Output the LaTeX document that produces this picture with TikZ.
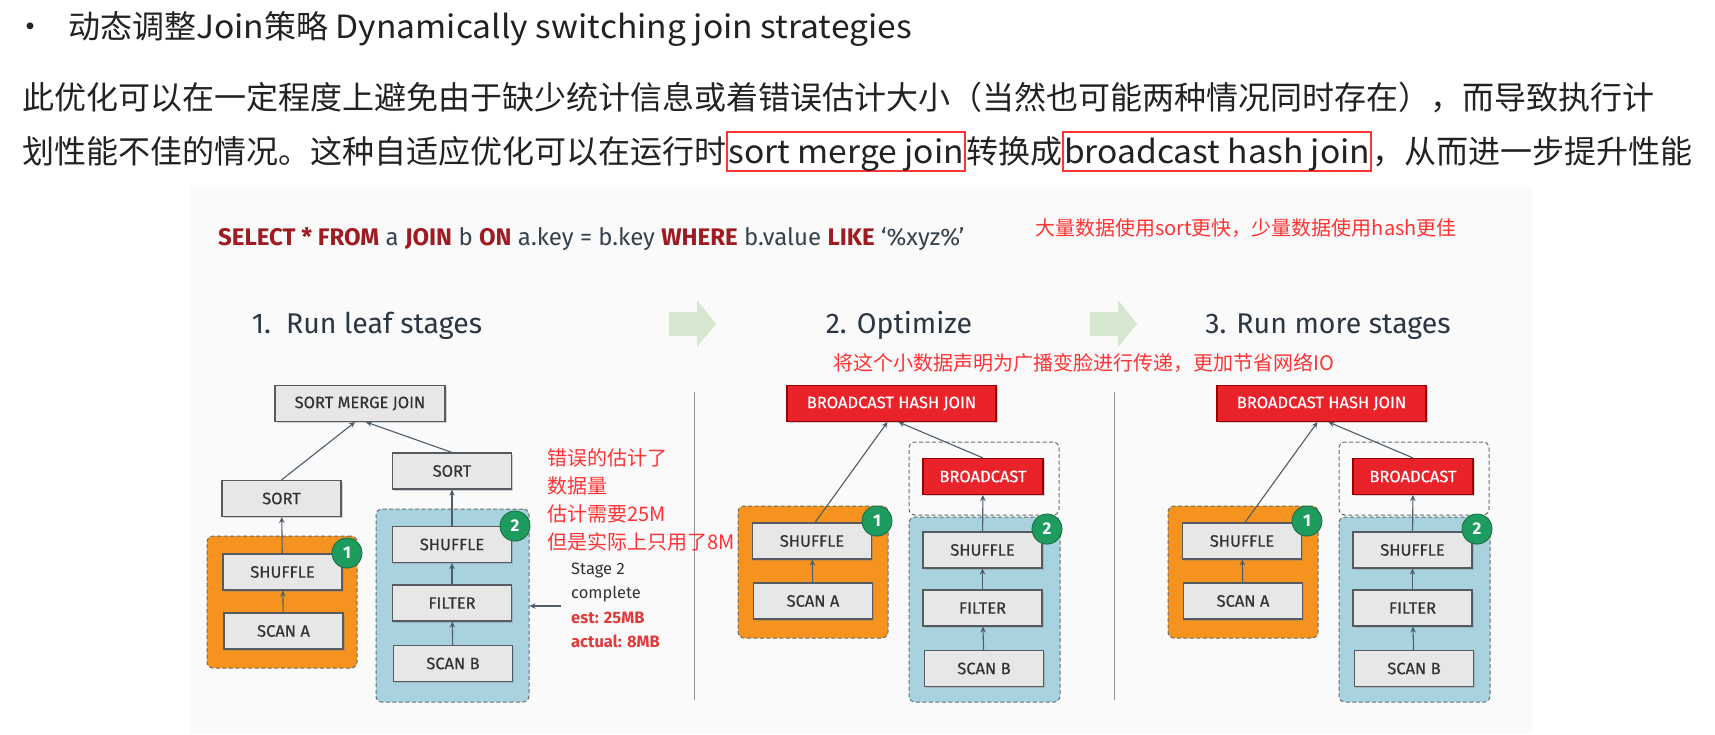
\documentclass[tikz,border=0pt]{standalone}
\usepackage{fontspec}
\usetikzlibrary{arrows.meta,shadows,calc}
\newfontfamily\cjk{Noto Sans CJK SC}
\newfontfamily\cjklat[FakeStretch=1.05]{Noto Sans CJK SC}
\newfontfamily\slide{Fira Sans}
\newfontfamily\lblfont[FakeBold=0.5]{Fira Sans}
\definecolor{txt}{HTML}{222222}
\definecolor{annot}{HTML}{FF3333}
\definecolor{slidebg}{HTML}{F9FAF9}
\definecolor{sqlred}{HTML}{9E1B22}
\definecolor{sqlgray}{HTML}{38424D}
\definecolor{head}{HTML}{2C3642}
\definecolor{boxfill}{HTML}{E7E7E7}
\definecolor{boxline}{HTML}{555B61}
\definecolor{redfill}{HTML}{EA2229}
\definecolor{orangefill}{HTML}{F6931E}
\definecolor{bluefill}{HTML}{A8D2DD}
\definecolor{dashline}{HTML}{676C72}
\definecolor{badgegreen}{HTML}{1E9C5F}
\definecolor{conn}{HTML}{4E5D6C}
\definecolor{garrow}{HTML}{D5E8CF}
\definecolor{sepcol}{HTML}{8E9398}
\definecolor{stagered}{HTML}{E03A3A}
\tikzset{
  toptext/.style={font=\cjk\fontsize{32}{38}\selectfont, text=txt, inner sep=0pt},
  hl/.style={toptext, font=\cjklat\fontsize{32}{38}\selectfont, draw=annot, line width=1.8pt, inner xsep=1pt, inner ysep=3pt, text height=28pt, text depth=5pt},
  annotxt/.style={font=\cjk\fontsize{20}{24}\selectfont, text=annot, inner sep=0pt, anchor=base west},
  opbox/.style={draw=boxline, fill=boxfill, line width=1.1pt, minimum width=119pt, minimum height=36pt,
    font=\lblfont\fontsize{16.5}{18}\selectfont, text=black!80, inner sep=0pt,
    drop shadow={shadow xshift=1.5pt, shadow yshift=-1.5pt, opacity=0.35}},
  redbox/.style={opbox, fill=redfill, draw=red!60!black, text=white},
  region/.style={draw=dashline, line width=1pt, dash pattern=on 4pt off 2.5pt, rounded corners=6pt, inner sep=0pt},
  badge/.style={circle, fill=badgegreen, draw=badgegreen!70!black, line width=0.8pt, text=white, minimum size=30pt, inner sep=0pt,
    font=\slide\bfseries\fontsize{17}{18}\selectfont, drop shadow={shadow xshift=0pt, shadow yshift=-1pt, opacity=0.3}},
  flow/.style={draw=conn, line width=1.1pt, -{Stealth[length=6pt,width=5.5pt]}},
  heading/.style={font=\slide\fontsize{28.5}{32}\selectfont, text=head, inner sep=0pt, anchor=base},
  stagetxt/.style={font=\slide\fontsize{16.5}{20}\selectfont, text=black!80, inner sep=0pt, anchor=base west},
  stagered/.style={stagetxt, font=\slide\bfseries\fontsize{16.5}{20}\selectfont, text=stagered},
  garrowfill/.style={fill=garrow},
  sepline/.style={draw=sepcol, line width=1pt}
}
\begin{document}
\begin{tikzpicture}[x=1pt,y=-1pt]
\useasboundingbox (0,0) rectangle (1715,734);
\fill[white] (0,0) rectangle (1715,734);
\fill[slidebg] (190,187) rectangle (1532,734);

% ---- top text ----
\node[toptext, anchor=base] (bul) at (30,38) {•};
\node[toptext, anchor=base west] (l1) at (68,38) {动态调整{\cjklat Join}策略{\cjklat\ Dynamically switching join strategies}};
\node[toptext, anchor=base west] (l2) at (22,109) {此优化可以在一定程度上避免由于缺少统计信息或着错误估计大小（当然也可能两种情况同时存在），而导致执行计};
\node[toptext, anchor=base west] (l3a) at (22,163) {划性能不佳的情况。这种自适应优化可以在运行时};
\node[hl, anchor=base west] (l3b) at (l3a.base east) {sort merge join};
\node[toptext, anchor=base west] (l3c) at (l3b.base east) {转换成};
\node[hl, anchor=base west] (l3d) at (l3c.base east) {broadcast hash join};
\node[toptext, anchor=base west] (l3e) at (l3d.base east) {，从而进一步提升性能};

% ---- slide header ----
\node[font=\slide\fontsize{24}{28}\selectfont, text=sqlgray, inner sep=0pt, anchor=base west] (sql) at (218,245)
 {\textcolor{sqlred}{\bfseries SELECT * FROM} a \textcolor{sqlred}{\bfseries JOIN} b \textcolor{sqlred}{\bfseries ON} a.key = b.key \textcolor{sqlred}{\bfseries WHERE} b.value \textcolor{sqlred}{\bfseries LIKE} ‘\%xyz\%’};
\node[annotxt] (note1) at (1035,235) {大量数据使用sort更快，少量数据使用hash更佳};

\node[heading] (h1) at (367,333) {1.\ \ Run leaf stages};
\node[heading] (h2) at (899,333) {2. Optimize};
\node[heading] (h3) at (1328,333) {3. Run more stages};

\fill[garrowfill] (669,312) -- (697,312) -- (697,300) -- (716,324) -- (697,347) -- (697,336) -- (669,336) -- cycle;
\fill[garrowfill] (1090,312) -- (1118,312) -- (1118,300) -- (1137,324) -- (1118,347) -- (1118,336) -- (1090,336) -- cycle;

\node[annotxt] (note2) at (833,370) {将这个小数据声明为广播变脸进行传递，更加节省网络IO};

\draw[sepline] (694,392) -- (694,700);
\draw[sepline] (1114,392) -- (1114,700);

% ---- panel 1 ----
\node[region, fill=orangefill, minimum width=150pt, minimum height=132pt] (ora1) at (282,602) {};
\node[region, fill=bluefill, minimum width=153pt, minimum height=193pt] (blu1) at (452.5,605.5) {};
\node[opbox, minimum width=170pt] (smj) at (360,403.5) {SORT MERGE JOIN};
\node[opbox] (lsort) at (281.5,498.5) {SORT};
\node[opbox] (rsort) at (452,471) {SORT};
\node[opbox] (lshuf) at (282.5,572) {SHUFFLE};
\node[opbox] (scana) at (283.5,631) {SCAN A};
\node[opbox] (rshuf) at (452,544.5) {SHUFFLE};
\node[opbox] (filt) at (452,603) {FILTER};
\node[opbox] (scanb) at (453,663.5) {SCAN B};
\node[badge] (bd1) at (347,553) {1};
\node[badge] (bd2) at (515,526) {2};
\draw[flow] (scana) -- (lshuf);
\draw[flow] (lshuf) -- (lsort);
\draw[flow] (lsort.north) -- ([xshift=-5pt]smj.south);
\draw[flow] (scanb) -- (filt);
\draw[flow] (filt) -- (rshuf);
\draw[flow] (rshuf) -- (rsort);
\draw[flow] (rsort.north) -- ([xshift=6pt]smj.south);

\node[annotxt] (e1) at (547,465) {错误的估计了};
\node[annotxt] (e2) at (547,493) {数据量};
\node[annotxt] (e3) at (547,521) {估计需要25M};
\node[annotxt] (e4) at (547,549) {但是实际上只用了8M};

\node[stagetxt] (st1) at (571,574) {Stage 2};
\node[stagetxt] (st2) at (571,598) {complete};
\node[stagered] (st3) at (571,623) {est: 25MB};
\node[stagered] (st4) at (571,647) {actual: 8MB};
\coordinate (sarr) at (561,606);
\draw[flow] (sarr) -- (sarr -| blu1.east);

% ---- panels 2 and 3 ----
\foreach \dx/\p in {0/b,430/c}{
\begin{scope}[xshift=\dx pt]
\node[region, fill=orangefill, minimum width=150pt, minimum height=132pt] (\p ora) at (813,572) {};
\node[region, minimum width=150pt, minimum height=73pt] (\p wht) at (984,478.5) {};
\node[region, fill=bluefill, minimum width=151pt, minimum height=185pt] (\p blu) at (984.5,609.5) {};
\node[redbox, minimum width=209pt] (\p bhj) at (891.5,403.5) {BROADCAST HASH JOIN};
\node[redbox, minimum width=120pt] (\p bc) at (983,476.5) {BROADCAST};
\node[opbox] (\p shufa) at (812,541) {SHUFFLE};
\node[opbox] (\p scana) at (813,601) {SCAN A};
\node[opbox] (\p shufb) at (982.5,550) {SHUFFLE};
\node[opbox] (\p filt) at (982.5,608) {FILTER};
\node[opbox] (\p scanb) at (984,668.5) {SCAN B};
\node[badge] (\p bd1) at (877,521) {1};
\node[badge] (\p bd2) at (1047,529) {2};
\draw[flow] (\p scana) -- (\p shufa);
\draw[flow] ([xshift=3pt]\p shufa.north) -- ([xshift=-4pt]\p bhj.south);
\draw[flow] (\p scanb) -- (\p filt);
\draw[flow] (\p filt) -- (\p shufb);
\draw[flow] (\p shufb) -- (\p bc);
\draw[flow] (\p bc.north) -- ([xshift=7pt]\p bhj.south);
\end{scope}
}
\end{tikzpicture}
\end{document}
